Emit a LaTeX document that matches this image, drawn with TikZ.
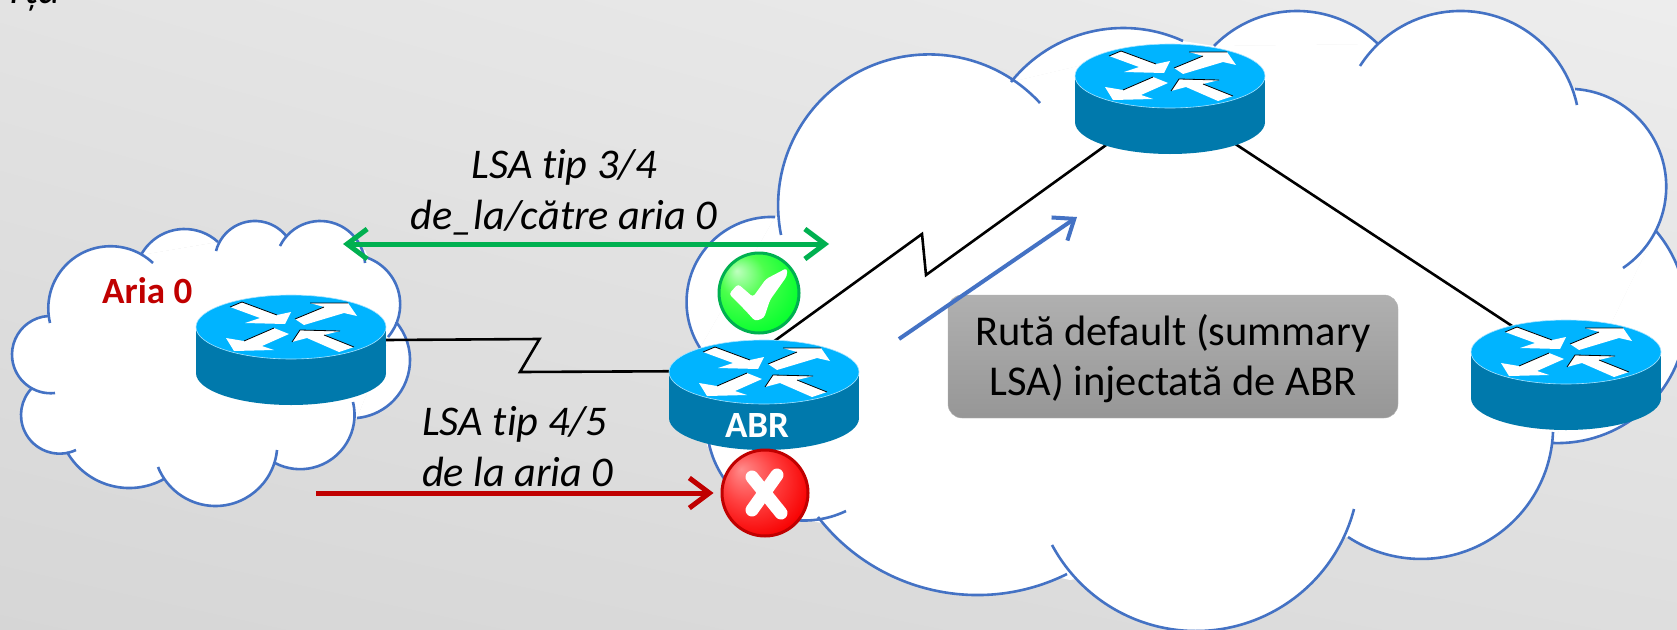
\documentclass[tikz,border=0pt]{standalone}
\usepackage{fontspec}
\setmainfont{Carlito}[Ligatures=NoCommon]
\usetikzlibrary{arrows.meta,shadings}
\usetikzlibrary{positioning}
\definecolor{cloudblue}{HTML}{4472C4}
\definecolor{routertop}{HTML}{00B4FF}
\definecolor{routerside}{HTML}{0079AC}
\definecolor{routerrim}{HTML}{A8E4FF}
\definecolor{okgreen}{HTML}{00B050}
\definecolor{badred}{HTML}{C00000}
\pgfdeclareradialshading{okball}{\pgfpoint{-14bp}{14bp}}{color(0bp)=(green!25!white); color(14bp)=(green!70!white); color(30bp)=(green!85!cyan!95!white); color(50bp)=(green!80!black!90!white)}
\pgfdeclareradialshading{badball}{\pgfpoint{-14bp}{14bp}}{color(0bp)=(red!45!white); color(16bp)=(red!75!white); color(32bp)=(red!97!black); color(50bp)=(red!97!black)}
\tikzset{
  cloudline/.style={draw=cloudblue,line width=2.6pt},
  routerbox/.style={rectangle,minimum width=190pt,minimum height=110pt,inner sep=0pt},
  link/.style={draw=black,line width=2.6pt},
  lsatext/.style={font=\fontsize{42.3}{51}\selectfont\itshape,inner sep=0pt},
  tagtext/.style={font=\fontsize{37}{44}\selectfont\bfseries,inner sep=0pt},
  router/.pic={
    \fill[routerside] (-95,0) rectangle (95,46);
    \fill[routerside] (0,46) ellipse [x radius=95,y radius=32];
    \draw[routerrim,line width=0.6pt,fill=routertop] (0,0) ellipse [x radius=95,y radius=32];
    \fill[white] (-61,-20)--(-49,-25)--(-14,-12)--(0,-15)--(-6,-3)--(-46,-4)--(-31,-9)--cycle;
    \fill[white] (4,-8)--(33,-20)--(19,-24)--(57,-24)--(66,-11)--(53,-14)--(13,-2)--cycle;
    \fill[white] (-47,14)--(-17,1)--(-2,7)--(-29,19)--(-17,23)--(-57,24)--(-65,11)--cycle;
    \fill[white] (1,15)--(9,3)--(49,4)--(33,8)--(63,20)--(48,25)--(16,11)--cycle;
    \draw[black,line width=0.8pt] (-61,-20)--(-49,-25)--(-14,-12) (4,-8)--(33,-20) (19,-24)--(57,-24);
    \draw[black,line width=0.8pt] (-47,14)--(-17,1) (1,15)--(9,3)--(49,4) (33,8)--(63,20);
  }
}
% circle arc through three points: style, then x,y of start, middle, end
\newcommand{\cloudarc}[7]{
  \pgfmathsetmacro{\ax}{(#4-#2)/100}
  \pgfmathsetmacro{\ay}{(#5-#3)/100}
  \pgfmathsetmacro{\bx}{(#6-#2)/100}
  \pgfmathsetmacro{\by}{(#7-#3)/100}
  \pgfmathsetmacro{\dd}{2*(\ax*\by-\ay*\bx)}
  \pgfmathsetmacro{\cx}{(\by*(\ax*\ax+\ay*\ay)-\ay*(\bx*\bx+\by*\by))/\dd}
  \pgfmathsetmacro{\cy}{(\ax*(\bx*\bx+\by*\by)-\bx*(\ax*\ax+\ay*\ay))/\dd}
  \pgfmathsetmacro{\rr}{100*sqrt(\cx*\cx+\cy*\cy)}
  \pgfmathsetmacro{\aone}{atan2(-\cy,-\cx)}
  \pgfmathsetmacro{\athree}{atan2(\by-\cy,\bx-\cx)}
  \pgfmathsetmacro{\sweep}{\dd>0 ? Mod(\athree-\aone,360) : -Mod(\aone-\athree,360)}
  \path[#1] (#2,#3) arc[start angle=\aone,delta angle=\sweep,radius=\rr];
}
\newcommand{\leftcloud}[1]{
  \cloudarc{#1}{153}{263}{68}{263}{50}{323}
  \cloudarc{#1}{141}{255}{184}{229}{218}{242}
  \cloudarc{#1}{216}{251}{254}{221}{287}{237}
  \cloudarc{#1}{280}{246}{320}{221}{365}{263}
  \cloudarc{#1}{365}{257}{400}{300}{388}{337}
  \cloudarc{#1}{396}{322}{410}{358}{357}{418}
  \cloudarc{#1}{353}{402}{344}{447}{275}{463}
  \cloudarc{#1}{277}{450}{216}{506}{158}{467}
  \cloudarc{#1}{164}{479}{128}{488}{67}{452}
  \cloudarc{#1}{76}{450}{21}{415}{32}{388}
  \cloudarc{#1}{55}{393}{12}{355}{48}{316}
}
\newcommand{\rightcloud}[1]{
  \cloudarc{#1}{1040}{103}{825}{96}{781}{235}
  \cloudarc{#1}{1011}{82}{1124}{28}{1183}{41}
  \cloudarc{#1}{1214}{46}{1298}{11}{1378}{44}
  \cloudarc{#1}{1360}{66}{1463}{11}{1577}{105}
  \cloudarc{#1}{1575}{89}{1666}{180}{1623}{268}
  \cloudarc{#1}{1656}{231}{1677}{363}{1553}{443}
  \cloudarc{#1}{1553}{432}{1480}{545}{1348}{537}
  \cloudarc{#1}{1354}{509}{1198}{631}{1052}{545}
  \cloudarc{#1}{1067}{574}{974}{595}{818}{517}
  \cloudarc{#1}{846}{511}{760}{510}{707}{430}
  \cloudarc{#1}{775}{217}{695}{265}{700}{348}
}
\begin{document}
\begin{tikzpicture}[x=1pt,y=-1pt]
\useasboundingbox (0,0) rectangle (1677,629);
\clip (0,0) rectangle (1677,629);
\shade[lower left=black!16,lower right=black!13,upper left=black!11,upper right=black!7] (0,0) rectangle (1677,629);
% clouds
\leftcloud{fill=white}
\fill[white] (141,255)--(218,242)--(287,237)--(365,250)--(396,322)--(357,418)--(275,463)--(168,480)--(72,456)--(32,388)--(48,316)--cycle;
\leftcloud{cloudline}
\rightcloud{fill=white}
\fill[white] (775,217)--(1011,82)--(1183,41)--(1214,46)--(1378,44)--(1575,89)--(1656,231)--(1553,443)--(1348,537)--(1070,580)--(822,523)--(800,519)--(707,446)--(700,348)--cycle;
\rightcloud{cloudline}
% routers
\node at (291,350)[routerbox](r0){};
\node at (764,395)[routerbox](abr){};
\node at (1170,99)[routerbox](r1){};
\node at (1566,375)[routerbox](r2){};
\coordinate (z0a) at (539.5,339);
\coordinate (z0b) at (520,372);
\coordinate (z1a) at (922,234);
\coordinate (z1b) at (926,275);
\draw[link] (r0.6.6)--(z0a)--(z0b)--(abr.166.4);
\draw[link] ([xshift=1pt,yshift=-8pt]abr.north)--(z1a)--(z1b)--([xshift=-60pt,yshift=12pt]r1.south);
\draw[link] ([xshift=55pt,yshift=17pt]r1.south)--([xshift=-36pt,yshift=-18pt]r2.north);
\pic at ([yshift=23pt]r0) {router};
\pic at ([yshift=23pt]abr) {router};
\pic at ([yshift=23pt]r1) {router};
\pic at ([yshift=23pt]r2) {router};
% marks
\node at (759,293)[circle,minimum size=80pt,inner sep=0pt,draw=okgreen,line width=3pt,shading=okball](okmark){};
\fill[white,rounded corners=3pt] (729,294)--(738,284)--(753,297)--(766,279)--(787,268)--(787,276)--(770,300)--(764,318)--(755,321)--(745,310)--cycle;
\node at (765,493)[circle,minimum size=86pt,inner sep=0pt,draw=badred,line width=3pt,shading=badball](xmark){};
\draw[white,line width=13pt,line cap=round] (752,477)--(781,513) (777,475)--(752,510);
% text
\node at (10,3)[lsatext,anchor=base west](topfrag){rța};
\node at (564,178)[lsatext,anchor=base](lsa34a){LSA tip 3/4};
\node at (564,229)[lsatext,anchor=base](lsa34b){de\_la/către aria 0};
\node at (422,435)[lsatext,anchor=base west](lsa45a){LSA tip 4/5};
\node at (422,486)[lsatext,anchor=base west](lsa45b){de la aria 0};
\node at (102,303)[tagtext,anchor=base west,text=badred](aria0){Aria 0};
\node at (757,437)[tagtext,anchor=base,text=white](abrtag){ABR};
\node at (1173,356.5)[rectangle,rounded corners=14pt,minimum width=450pt,minimum height=123pt,draw=black!30,top color=black!31,bottom color=black!41,font=\fontsize{42.5}{50}\selectfont,align=center](injectbox){\rule{0pt}{36pt}Rută default (summary\\LSA) injectată de ABR};
% arrows
\coordinate (gl) at (343,244);
\coordinate (gr) at (829,244);
\coordinate (rs) at (316,493);
\coordinate (bs) at (899,339);
\coordinate (be) at (1077,217);
\draw[okgreen,line width=5pt,{Straight Barb[length=20pt,width=30pt,line width=5pt]}-{Straight Barb[length=20pt,width=30pt,line width=5pt]}] (gl)--(gr);
\draw[badred,line width=5pt,-{Straight Barb[length=20pt,width=30pt,line width=5pt]},shorten >=7pt] (rs)--(xmark.west);
\draw[cloudblue,line width=4pt,-{Straight Barb[length=18pt,width=28pt,line width=4pt]}] (bs)--(be);
\end{tikzpicture}
\end{document}
